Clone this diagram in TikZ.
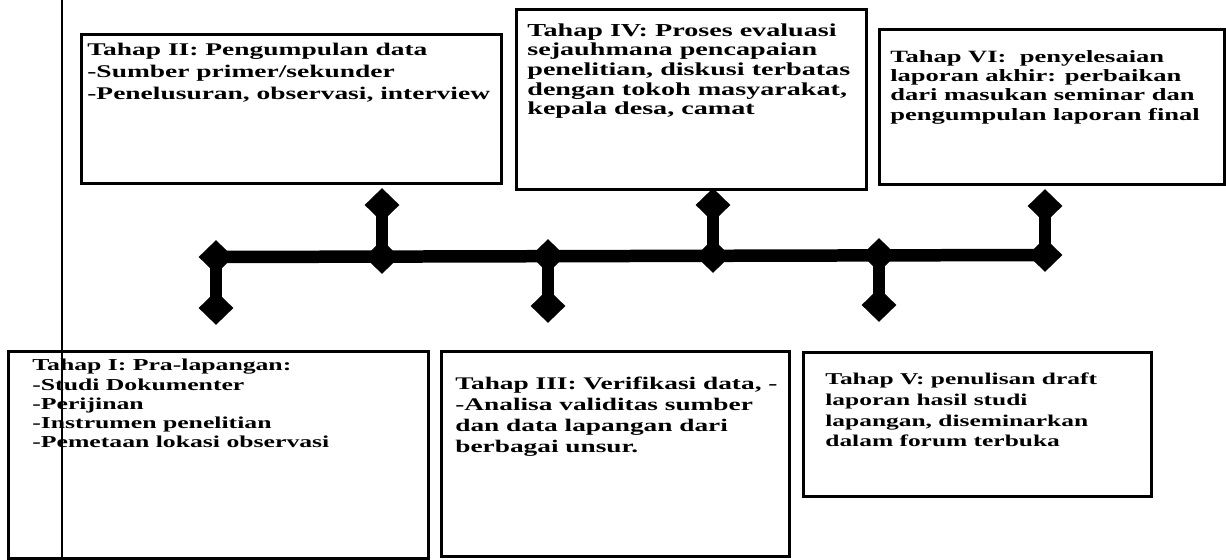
\documentclass[tikz,border=0pt]{standalone}
\usepackage{fontspec}
\setmainfont{Liberation Serif}[FakeStretch=1.54]
\usetikzlibrary{shapes.geometric}

\newcommand{\ukuran}[2]{\fontsize{#1}{#2}\selectfont\bfseries}

\tikzset{
  kotak/.style={draw=black,line width=1.6pt,inner sep=0pt,anchor=north west},
  teks/.style={anchor=north west,inner sep=0pt,align=left},
  intan/.style={diamond,fill=black,inner sep=0pt,minimum width=0.7cm,minimum height=0.68cm},
  batang/.style={draw=black,line width=0.25cm}
}
\tikzstyle{every node}=[color=black,font=\ukuran{10pt}{12pt}]

\begin{document}
\begin{tikzpicture}[x=0.02cm,y=-0.02cm]
    \useasboundingbox (0,0) rectangle (1226,560);
    % kotak tahap
    \node[kotak,minimum width=8.4cm,minimum height=4.14cm] (T1) at (7,350) {};
    \node[kotak,minimum width=8.4cm,minimum height=2.98cm] (T2) at (80,33) {};
    \node[kotak,minimum width=6.96cm,minimum height=4.1cm] (T3) at (440,350) {};
    \node[kotak,minimum width=7.0cm,minimum height=3.6cm] (T4) at (515,8) {};
    \node[kotak,minimum width=6.96cm,minimum height=2.88cm] (T5) at (802,351) {};
    \node[kotak,minimum width=6.9cm,minimum height=3.1cm] (T6) at (878,28) {};
    \node[teks,font=\ukuran{9.5pt}{10.9pt}] (T1') at ([shift={(25,9)}]T1.north west)
        {Tahap I: Pra-lapangan:\\-Studi Dokumenter\\-Perijinan\\-Instrumen penelitian\\-Pemetaan lokasi observasi};
    \node[teks,font=\ukuran{10.15pt}{12.35pt}] (T2') at ([shift={(7,10)}]T2.north west)
        {Tahap II: Pengumpulan data\\-Sumber primer/sekunder\\-Penelusuran, observasi, interview};
    \node[teks,font=\ukuran{10.1pt}{11.95pt}] (T3') at ([shift={(15,27)}]T3.north west)
        {Tahap III: Verifikasi data, -\\-Analisa validitas sumber\\dan data lapangan dari\\berbagai unsur.};
    \node[teks,font=\ukuran{10.4pt}{11.2pt}] (T4') at ([shift={(12,15)}]T4.north west)
        {Tahap IV: Proses evaluasi\\sejauhmana pencapaian\\penelitian, diskusi terbatas\\dengan tokoh masyarakat,\\kepala desa, camat};
    \node[teks,font=\ukuran{9.4pt}{11.7pt}] (T5') at ([shift={(23,22)}]T5.north west)
        {Tahap V: penulisan draft\\laporan hasil studi\\lapangan, diseminarkan\\dalam forum terbuka};
    \node[teks,font=\ukuran{9.8pt}{11pt}] (T6') at ([shift={(12,22)}]T6.north west)
        {Tahap VI:\ \ penyelesaian\\laporan akhir: perbaikan\\dari masukan seminar dan\\pengumpulan laporan final};
    % garis waktu
    \node[intan] (D1) at (216,257) {};
    \node[intan] (D2) at (382,257) {};
    \node[intan] (D3) at (548,256) {};
    \node[intan] (D4) at (713,256) {};
    \node[intan] (D5) at (879,255) {};
    \node[intan] (D6) at (1045,255) {};
    \node[intan] (E1) at (216,308) {};
    \node[intan] (E2) at (382,205) {};
    \node[intan] (E3) at (548,306) {};
    \node[intan] (E4) at (713,205) {};
    \node[intan] (E5) at (879,305) {};
    \node[intan] (E6) at (1045,206) {};
    \draw[batang] (D1.center) -- (D6.center);
    \foreach \i in {1,...,6}
        \draw[batang] (D\i.center) -- (E\i.center);
    % garis tepi halaman
    \coordinate (P) at (62,0);
    \coordinate (P') at (62,560);
    \draw[line width=1.1pt] (P) -- (P');
\end{tikzpicture}
\end{document}
